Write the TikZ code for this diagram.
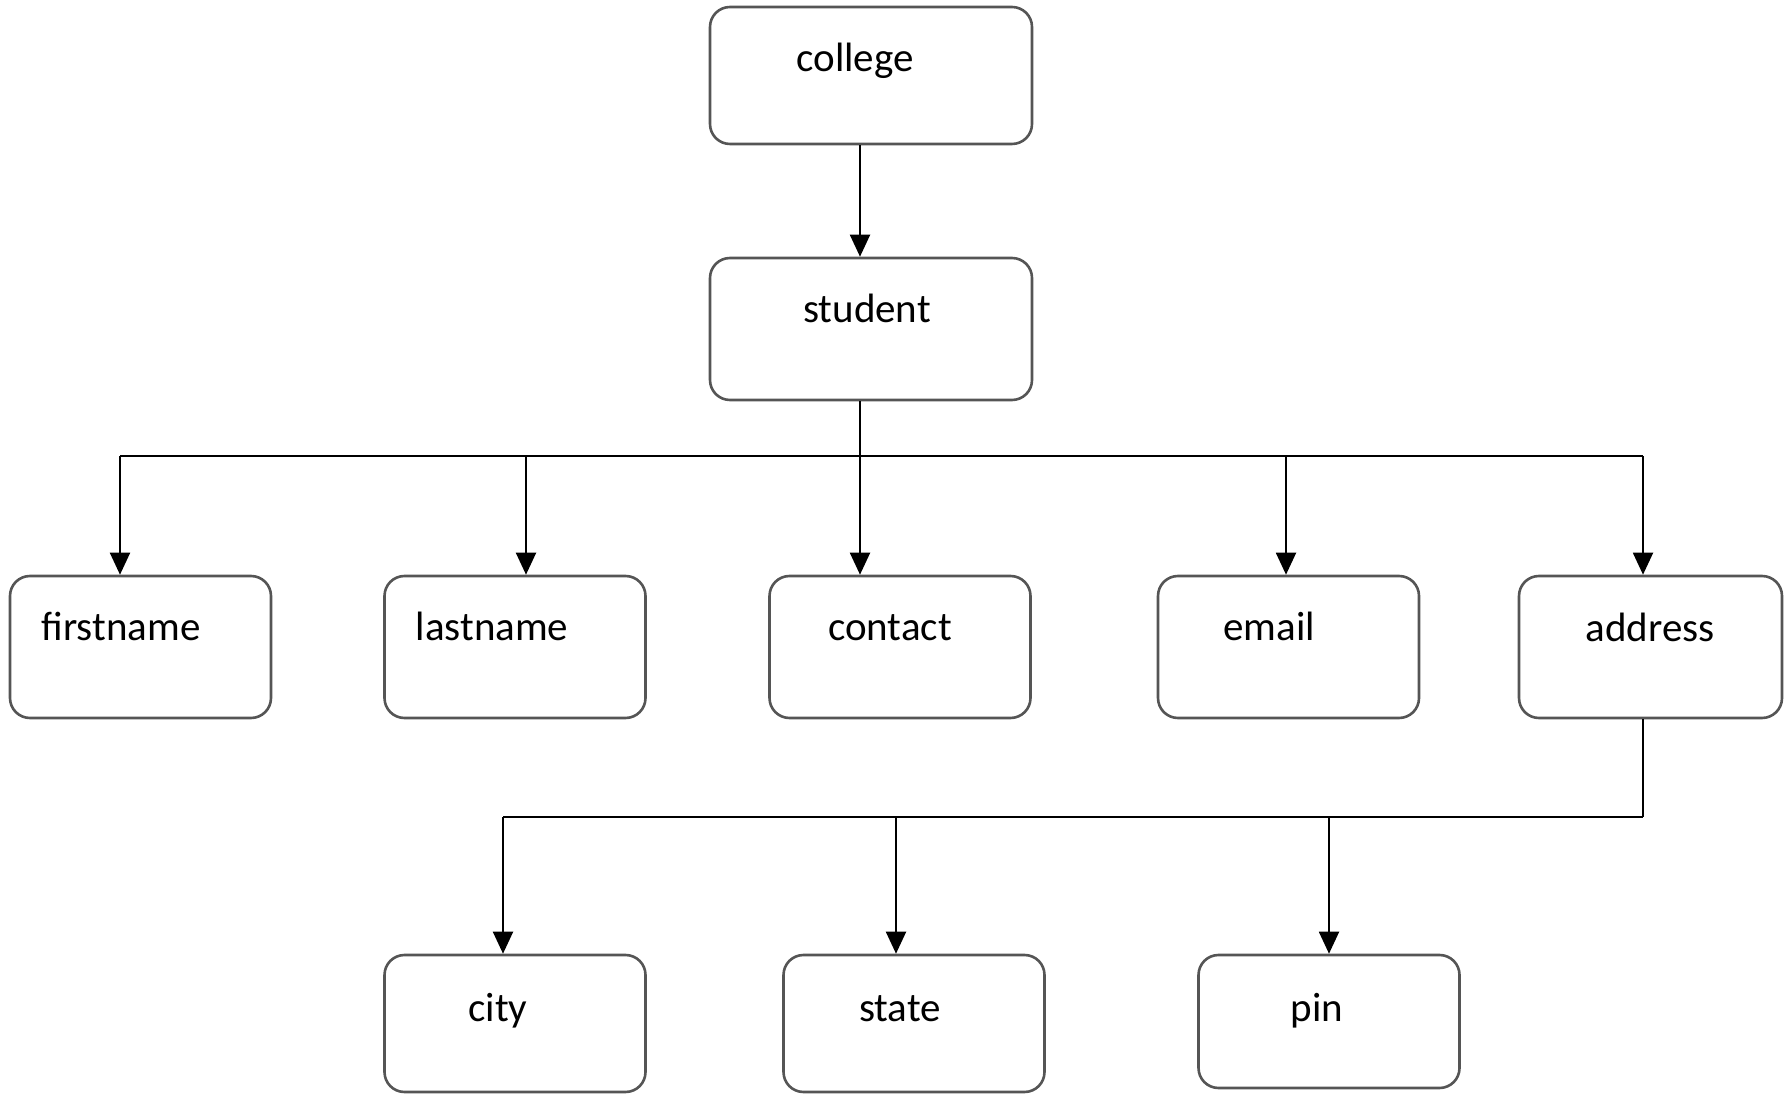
\documentclass[tikz,border=0pt]{standalone}
\usepackage{fontspec}
\setmainfont{Carlito}
\usetikzlibrary{arrows.meta}
\definecolor{boxgray}{RGB}{85,85,85}
\begin{document}
\begin{tikzpicture}[x=0.5pt,y=-0.5pt,
  box/.style={draw=boxgray, line width=1.3pt, rounded corners=10pt, inner sep=0pt, fill=white, minimum width=130.5pt, minimum height=71pt},
  lbl/.style={font=\fontsize{20.5}{24}\selectfont, text=black, anchor=base, inner sep=0pt},
  arr/.style={-{Triangle[width=10pt,length=11pt]}, line width=1pt},
  bus/.style={line width=1pt}]
\useasboundingbox (0,0) rectangle (1787,1095);
% boxes
\node[box, minimum width=161pt, minimum height=68.5pt] (college) at (871,75.5) {};
\node[box, minimum width=161pt, minimum height=71pt] (student) at (871,329) {};
\node[box] (firstname) at (140.5,647) {};
\node[box] (lastname) at (515,647) {};
\node[box] (contact) at (900,647) {};
\node[box] (email) at (1288.5,647) {};
\node[box, minimum width=131.5pt] (address) at (1650.5,647) {};
\node[box, minimum height=68.5pt] (city) at (515,1023.5) {};
\node[box, minimum height=68.5pt] (state) at (914,1023.5) {};
\node[box, minimum height=66.5pt] (pin) at (1329,1021.5) {};
% labels
\node[lbl] (college-t) at (855,72) {college};
\node[lbl] (student-t) at (867,323) {student};
\node[lbl] (firstname-t) at (121,640) {firstname};
\node[lbl] (lastname-t) at (492,640) {lastname};
\node[lbl] (contact-t) at (890,640) {contact};
\node[lbl] (email-t) at (1269,640) {email};
\node[lbl] (address-t) at (1650,642) {address};
\node[lbl] (city-t) at (498,1021) {city};
\node[lbl] (state-t) at (900,1021) {state};
\node[lbl] (pin-t) at (1317,1021) {pin};
% bus coordinates
\coordinate (busA) at (860,456);
\coordinate (busB) at (1643,817);
% connectors
\draw[arr] (college.south -| busA) -- (student.north -| busA);
\draw[bus] (student.south -| busA) -- (busA);
\draw[bus] (busA -| 120,0) -- (busA -| 1643,0);
\draw[arr] (busA -| 120,0) -- (firstname.north -| 120,0);
\draw[arr] (busA -| 526,0) -- (lastname.north -| 526,0);
\draw[arr] (busA) -- (contact.north -| busA);
\draw[arr] (busA -| 1286,0) -- (email.north -| 1286,0);
\draw[arr] (busA -| 1643,0) -- (address.north -| 1643,0);
\draw[bus] (address.south -| busB) -- (busB);
\draw[bus] (busB -| 503,0) -- (busB);
\draw[arr] (busB -| 503,0) -- (city.north -| 503,0);
\draw[arr] (busB -| 896,0) -- (state.north -| 896,0);
\draw[arr] (busB -| 1329,0) -- (pin.north -| 1329,0);
\end{tikzpicture}
\end{document}
